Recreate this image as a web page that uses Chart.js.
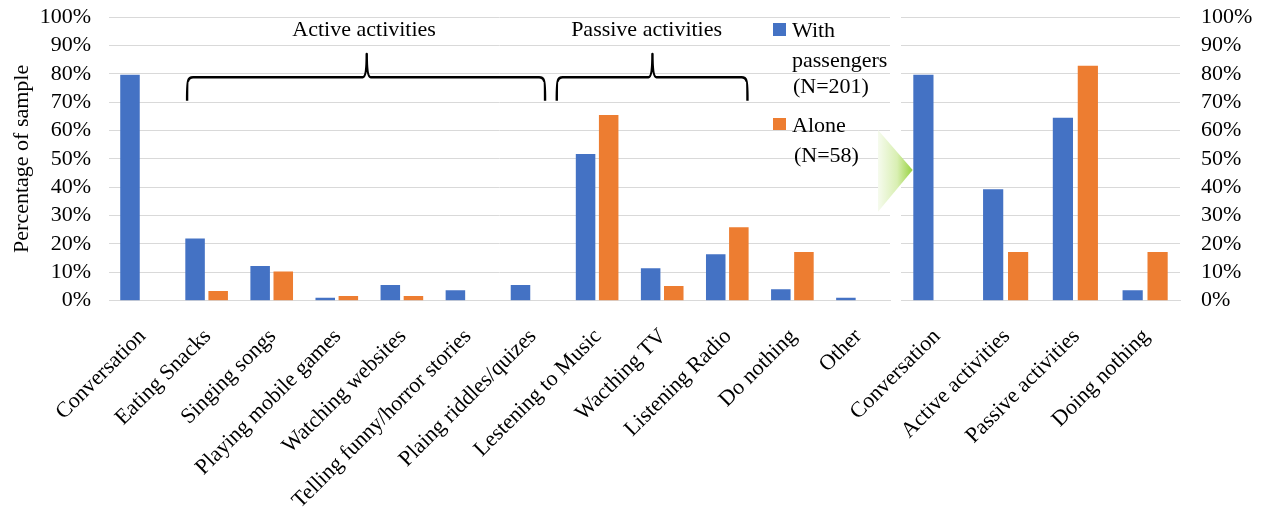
<!DOCTYPE html>
<html>
<head>
<meta charset="utf-8">
<script src="https://cdn.jsdelivr.net/npm/chart.js@4.4.1/dist/chart.umd.min.js"></script>
<style>
  html, body { margin: 0; padding: 0; background: #fff; }
  #wrap { position: relative; width: 1265px; height: 507px; overflow: hidden; }
  canvas { position: absolute; top: 0; }
  #left { left: 0; }
  #right { left: 780px; }
  #arrow { position: absolute; left: 0; top: 0; pointer-events: none; }
</style>
</head>
<body>
<div id="wrap">
  <canvas id="left" width="895" height="507"></canvas>
  <canvas id="right" width="485" height="507"></canvas>
  <svg id="arrow" width="1265" height="507">
    <defs>
      <linearGradient id="arrowFill" x1="0" y1="0" x2="1" y2="0">
        <stop offset="0" stop-color="#f6fbee"/>
        <stop offset="0.55" stop-color="#d9efb3"/>
        <stop offset="1" stop-color="#97d23f"/>
      </linearGradient>
    </defs>
    <polygon points="878,130 912.7,170 878,211.7" fill="url(#arrowFill)"/>
  </svg>
</div>
<script>
// Detailed activities (left panel)
const detailCategories = [
  'Conversation', 'Eating Snacks', 'Singing songs', 'Playing mobile games',
  'Watching websites', 'Telling funny/horror stories', 'Plaing riddles/quizes',
  'Lestening to Music', 'Wacthing TV', 'Listening Radio', 'Do nothing', 'Other'
];
const detailWithPassengers = [79.6, 21.9, 12.2, 1.0, 5.5, 3.7, 5.5, 51.7, 11.4, 16.4, 4.0, 1.0];
const detailAlone          = [0,    3.4,  10.3, 1.7, 1.7, 0,   0,   65.5, 5.2,  25.9, 17.2, 0];

// Grouped activities (right panel)
const groupCategories = ['Conversation', 'Active activities', 'Passive activities', 'Doing nothing'];
const groupWithPassengers = [79.6, 39.3, 64.5, 3.7];
const groupAlone          = [0,    17.2, 82.8, 17.2];

// Series names and axis ticks
const seriesWith = ['With', 'passengers', '(N=201)'];
const seriesAlone = ['Alone', '(N=58)'];
const axisTitle = 'Percentage of sample';
const tickValues = [0, 10, 20, 30, 40, 50, 60, 70, 80, 90, 100];

const BLUE = '#4472C4';
const ORANGE = '#ED7D31';
const GRID = '#d9d9d9';
const FONT_FAMILY = "'Liberation Serif', 'Times New Roman', serif";

Chart.defaults.color = '#000';
Chart.defaults.font.family = FONT_FAMILY;
Chart.defaults.font.size = 22;

function yScale(position, width, padding, withTitle) {
  return {
    position: position,
    min: tickValues[0],
    max: tickValues[tickValues.length - 1],
    afterBuildTicks: s => { s.ticks = tickValues.map(v => ({ value: v })); },
    ticks: {
      autoSkip: false,
      padding: padding,
      font: { size: 22, family: FONT_FAMILY },
      callback: v => v + '%'
    },
    grid: { color: GRID, lineWidth: 1, drawTicks: false },
    border: { display: false },
    title: withTitle ? {
      display: true,
      text: axisTitle,
      font: { size: 22, family: FONT_FAMILY },
      padding: { top: 9, bottom: 0 }
    } : { display: false },
    afterFit: s => {
      s.width = width;
      s.paddingTop = 0;
      s.paddingBottom = 0;
    }
  };
}

function xScale() {
  return {
    grid: { display: false },
    border: { display: true, color: GRID, width: 1 },
    ticks: {
      autoSkip: false,
      minRotation: 45,
      maxRotation: 45,
      padding: 15,
      labelOffset: 1,
      font: { size: 22, family: FONT_FAMILY }
    },
    afterFit: s => {
      s.height = 206.3;
      s.paddingLeft = 0;
      s.paddingRight = 0;
    }
  };
}

// Braces and group captions over the detailed chart, plus the legend
const annotationPlugin = {
  id: 'groupBraces',
  afterDatasetsDraw(chart, args, opts) {
    const ctx = chart.ctx;
    const x = chart.scales.x;
    const c0 = x.getPixelForValue(0);
    const step = x.getPixelForValue(1) - c0;
    const px = f => c0 + f * step;

    ctx.save();
    ctx.strokeStyle = '#000';
    ctx.lineWidth = 2.4;
    ctx.lineJoin = 'round';
    ctx.lineCap = 'butt';
    const yH = 77.3, yEnd = 100.7, yTip = 54, r = 6;
    opts.groups.forEach(g => {
      const x0 = px(g.from), x1 = px(g.to), xm = px(g.tip);
      ctx.beginPath();
      ctx.moveTo(x0, yEnd);
      ctx.quadraticCurveTo(x0, yH + 4, x0 + 1, yH + r * 0.6);
      ctx.quadraticCurveTo(x0 + 2, yH, x0 + r, yH);
      ctx.lineTo(xm - 4, yH);
      ctx.quadraticCurveTo(xm, yH, xm, yTip);
      ctx.quadraticCurveTo(xm, yH, xm + 4, yH);
      ctx.lineTo(x1 - r, yH);
      ctx.quadraticCurveTo(x1 - 2, yH, x1 - 1, yH + r * 0.6);
      ctx.quadraticCurveTo(x1, yH + 4, x1, yEnd);
      ctx.stroke();

      ctx.fillStyle = '#000';
      ctx.font = '22px ' + FONT_FAMILY;
      ctx.textAlign = 'center';
      ctx.textBaseline = 'alphabetic';
      ctx.fillText(g.label, px(g.text), 36);
    });

    // legend
    const ds = chart.data.datasets;
    ctx.font = '22px ' + FONT_FAMILY;
    ctx.textAlign = 'left';
    ctx.textBaseline = 'alphabetic';
    ctx.fillStyle = ds[0].backgroundColor;
    ctx.fillRect(773, 23, 13, 13);
    ctx.fillStyle = '#000';
    ctx.fillText(seriesWith[0], 792, 36.7);
    ctx.fillText(seriesWith[1], 792, 66.7);
    ctx.fillText(seriesWith[2], 793, 93);
    ctx.fillStyle = ds[1].backgroundColor;
    ctx.fillRect(773, 118, 13, 12);
    ctx.fillStyle = '#000';
    ctx.fillText(seriesAlone[0], 792, 131.7);
    ctx.fillText(seriesAlone[1], 794, 161.7);
    ctx.restore();
  }
};

new Chart(document.getElementById('left'), {
  type: 'bar',
  data: {
    labels: detailCategories,
    datasets: [
      { label: seriesWith.join(' '), data: detailWithPassengers, backgroundColor: BLUE,
        categoryPercentage: 0.71, barPercentage: 0.845 },
      { label: seriesAlone.join(' '), data: detailAlone, backgroundColor: ORANGE,
        categoryPercentage: 0.71, barPercentage: 0.845 }
    ]
  },
  options: {
    responsive: false,
    animation: false,
    devicePixelRatio: 1,
    layout: { padding: { top: 17, right: 5, left: 0, bottom: 0 } },
    plugins: {
      legend: { display: false },
      tooltip: { enabled: false },
      groupBraces: {
        groups: [
          { label: groupCategories[1], from: 0.70, to: 6.20, tip: 3.46, text: 3.42 },
          { label: groupCategories[2], from: 6.38, to: 9.31, tip: 7.85, text: 7.76 }
        ]
      }
    },
    scales: {
      x: xScale(),
      y: yScale('left', 109, 18, true)
    }
  },
  plugins: [annotationPlugin]
});

new Chart(document.getElementById('right'), {
  type: 'bar',
  data: {
    labels: groupCategories,
    datasets: [
      { label: seriesWith.join(' '), data: groupWithPassengers, backgroundColor: BLUE,
        categoryPercentage: 0.715, barPercentage: 0.81 },
      { label: seriesAlone.join(' '), data: groupAlone, backgroundColor: ORANGE,
        categoryPercentage: 0.715, barPercentage: 0.81 }
    ]
  },
  options: {
    responsive: false,
    animation: false,
    devicePixelRatio: 1,
    layout: { padding: { top: 17, right: 0, left: 121, bottom: 0 } },
    plugins: { legend: { display: false }, tooltip: { enabled: false } },
    scales: {
      x: xScale(),
      y: yScale('right', 85, 21, false)
    }
  }
});
</script>
</body>
</html>
